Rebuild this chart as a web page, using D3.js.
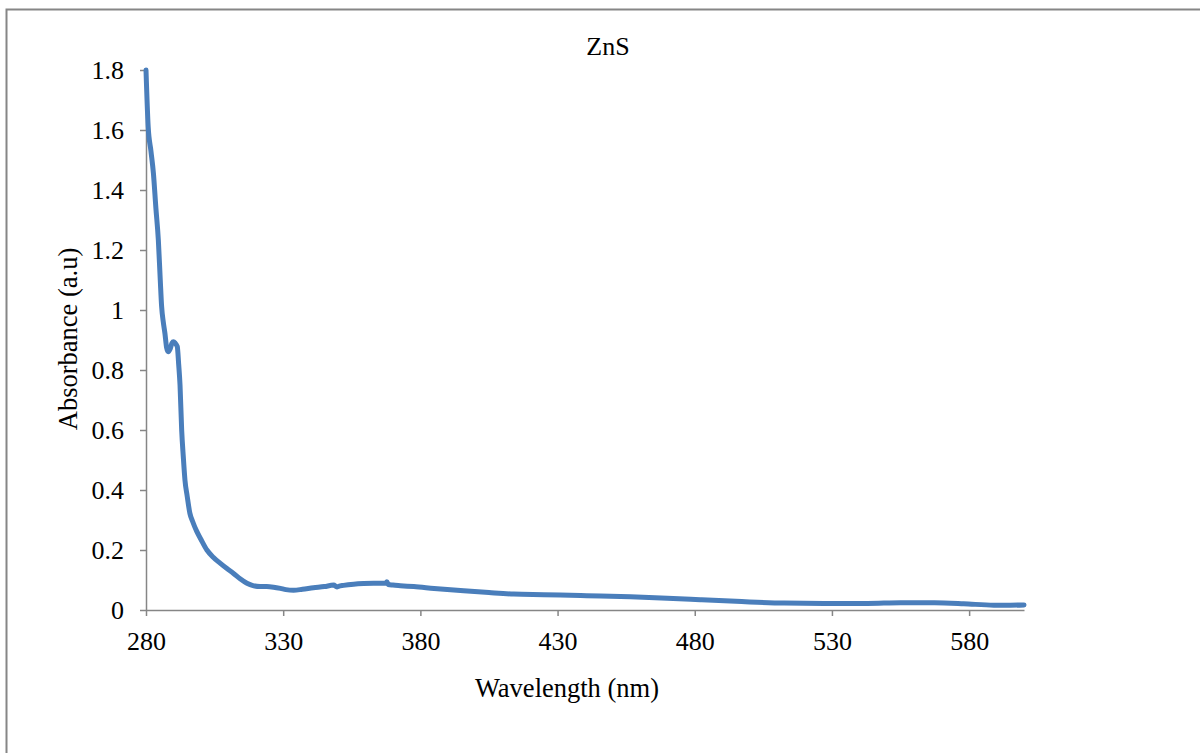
<!DOCTYPE html>
<head>
  <meta charset="utf-8" />
  <script src="https://d3js.org/d3.v7.min.js"></script>
  <style>
    body {
      margin: 0;
      background: #fff;
    }
    text {
      font-family: "Liberation Serif", "Times New Roman", serif;
      fill: #000;
    }
    .axis path, .axis line {
      stroke: #868686;
      stroke-width: 1.5px;
    }
  </style>
</head>

<body>
  <script>
    var width = 1200,
      height = 753;

    // spectrum
    var wavelength = [280, 280.8, 281.8, 282.7, 283.6, 284.5, 285.2, 285.7, 286.3, 286.9, 287.5, 288.1,
      288.8, 289.5, 290, 290.6, 291.4, 291.9, 292.4, 293, 293.6, 294.2, 295, 296, 297, 298.5, 300,
      302.2, 304.5, 307, 309.5, 311.9, 314.3, 316.8, 319, 321.6, 324, 326.5, 329, 331, 333.8, 337,
      341, 345, 348.4, 349.6, 350.2, 352, 355.7, 359.3, 363, 367.3, 367.8, 368.3, 370, 372.7, 377.6,
      385, 395.8, 405, 414, 425, 438.4, 445.7, 456.6, 470, 482, 495, 512.6, 527, 542.9, 555, 567.4,
      578, 589, 595, 600];
    var absorbance = [1.80, 1.61, 1.53, 1.456, 1.34, 1.233, 1.10, 1.011, 0.96, 0.922, 0.875, 0.861,
      0.87, 0.89, 0.894, 0.89, 0.878, 0.82, 0.75, 0.60, 0.51, 0.433, 0.38, 0.322, 0.295, 0.262, 0.236,
      0.2, 0.176, 0.156, 0.138, 0.122, 0.104, 0.089, 0.081, 0.078, 0.078, 0.076, 0.072, 0.068, 0.066, 0.069,
      0.074, 0.078, 0.083, 0.077, 0.079, 0.082, 0.086, 0.088, 0.089, 0.089, 0.094, 0.085, 0.083, 0.081, 0.078,
      0.072, 0.064, 0.058, 0.053, 0.051, 0.048, 0.047, 0.044, 0.039, 0.034, 0.029, 0.023, 0.022, 0.022, 0.024, 0.024,
      0.021, 0.016, 0.016, 0.017];

    var xTicks = [280, 330, 380, 430, 480, 530, 580];
    var yTicks = [0, 0.2, 0.4, 0.6, 0.8, 1, 1.2, 1.4, 1.6, 1.8];
    var yTickLabels = ["0", "0.2", "0.4", "0.6", "0.8", "1", "1.2", "1.4", "1.6", "1.8"];

    var data = wavelength.map((w, i) => ({ x: w, y: absorbance[i] }));

    var svg = d3.select("body").append("svg")
      .attr("width", width)
      .attr("height", height);

    // outer frame (only top and left show in the picture)
    svg.append("rect")
      .attr("x", 6.5).attr("y", 9.5)
      .attr("width", width).attr("height", height)
      .attr("fill", "none")
      .attr("stroke", "#868686")
      .attr("stroke-width", 2);

    var x = d3.scaleLinear().domain([280, 600]).range([146, 1024]);
    var y = d3.scaleLinear().domain([0, 1.8]).range([610, 70]);

    var xAxis = svg.append("g")
      .attr("class", "axis")
      .attr("transform", "translate(0,610)")
      .call(d3.axisBottom(x).tickValues(xTicks).tickSize(6).tickSizeOuter(0));
    xAxis.selectAll("text")
      .style("font-size", "26px")
      .attr("dy", null)
      .attr("y", 40);

    var yAxis = svg.append("g")
      .attr("class", "axis")
      .attr("transform", "translate(146,0)")
      .call(d3.axisLeft(y).tickValues(yTicks).tickFormat((d, i) => yTickLabels[i]).tickSize(6).tickSizeOuter(0));
    yAxis.selectAll("text")
      .style("font-size", "26px")
      .attr("x", -22)
      .attr("dy", "0.33em");

    var line = d3.line()
      .x(d => x(d.x))
      .y(d => y(d.y))
      .curve(d3.curveMonotoneX);

    svg.append("path")
      .datum(data)
      .attr("d", line)
      .attr("fill", "none")
      .attr("stroke", "#4a7ebb")
      .attr("stroke-width", 5)
      .attr("stroke-linejoin", "round")
      .attr("stroke-linecap", "round");

    svg.append("text")
      .attr("x", 608).attr("y", 55)
      .attr("text-anchor", "middle")
      .style("font-size", "26px")
      .text("ZnS");

    svg.append("text")
      .attr("x", 567).attr("y", 697)
      .attr("text-anchor", "middle")
      .style("font-size", "26.5px")
      .text("Wavelength (nm)");

    svg.append("text")
      .attr("transform", "translate(77,339) rotate(-90)")
      .attr("text-anchor", "middle")
      .style("font-size", "26.5px")
      .text("Absorbance (a.u)");
  </script>
</body>
